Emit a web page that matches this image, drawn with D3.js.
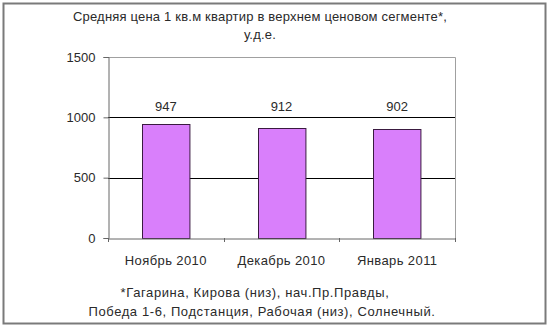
<!DOCTYPE html>
<html>
<head>
<meta charset="utf-8">
<script src="https://cdn.jsdelivr.net/npm/d3@7"></script>
<style>
  body { margin: 0; background: #fff; }
  text { font-family: "Liberation Sans", Arial, sans-serif; fill: #2a2a2a; }
</style>
</head>
<body>
<div id="chart"></div>
<script>
// data
var months = ["Ноябрь 2010", "Декабрь 2010", "Январь 2011"];
var prices = [947, 912, 902];
var yTicks = [0, 500, 1000, 1500];
var titleLines = ["Средняя цена 1 кв.м квартир в верхнем ценовом сегменте*,", "у.д.е."];
var noteLines = ["*Гагарина, Кирова (низ), нач.Пр.Правды,", "Победа 1-6, Подстанция, Рабочая (низ), Солнечный."];

var w = 550, h = 328;
var plotL = 108, plotR = 455, plotT = 57, plotB = 238;
var font = "Liberation Sans, Arial, sans-serif";

var svg = d3.select("#chart").append("svg")
  .attr("width", w)
  .attr("height", h);

// outer frame
svg.append("rect")
  .attr("x", 3.5).attr("y", 3.5)
  .attr("width", 542).attr("height", 320)
  .attr("fill", "none")
  .attr("stroke", "#7a7a7a")
  .attr("stroke-width", 2);

var x = d3.scaleBand().domain(months).range([plotL, plotR]).paddingInner(0.59).paddingOuter(0.295);
var xAxisScale = d3.scaleBand().domain(months).range([plotL, plotR]);
var y = d3.scaleLinear().domain([0, 1500]).range([plotB, plotT]);

// plot border (top and right)
svg.append("path")
  .attr("d", "M" + plotL + "," + (plotT + 0.5) + "H" + (plotR + 0.5) + "V" + plotB)
  .attr("fill", "none")
  .attr("stroke", "#a0a0a0")
  .attr("stroke-width", 1);

// gridlines
svg.selectAll(".grid")
  .data(yTicks.filter(function(d) { return d > 0 && d < 1500; }))
  .enter()
  .append("line")
  .attr("x1", plotL).attr("x2", plotR)
  .attr("y1", function(d) { return Math.round(y(d)) + 0.5; })
  .attr("y2", function(d) { return Math.round(y(d)) + 0.5; })
  .attr("stroke", "#000")
  .attr("stroke-width", 1);

// bars
svg.selectAll(".bar")
  .data(prices)
  .enter()
  .append("rect")
  .attr("x", function(d, i) { return Math.round(x(months[i])) + 0.5; })
  .attr("y", function(d) { return Math.round(y(d)) + 0.5; })
  .attr("width", x.bandwidth())
  .attr("height", function(d) { return Math.round(plotB - y(d)); })
  .attr("fill", "#d97ffb")
  .attr("stroke", "#3a1a40")
  .attr("stroke-width", 1);

// value labels (kept clear of the 1000 gridline, like the original)
svg.selectAll(".val")
  .data(prices)
  .enter()
  .append("text")
  .attr("x", function(d, i) { return x(months[i]) + x.bandwidth() / 2; })
  .attr("y", function(d) { return Math.min(y(d) - 11, y(1000) - 6); })
  .attr("text-anchor", "middle")
  .attr("font-size", 13)
  .text(function(d) { return d; });

// y axis
var yAxis = svg.append("g")
  .attr("transform", "translate(" + (plotL + 0.5) + ",0)")
  .call(d3.axisLeft(y).tickValues(yTicks).tickSize(5).tickPadding(8).tickFormat(d3.format("d")));
yAxis.select(".domain").attr("stroke", "#666");
yAxis.selectAll(".tick line").attr("stroke", "#666");
yAxis.selectAll(".tick text").attr("font-size", 13).attr("fill", "#2a2a2a")
  .attr("font-family", font);

// x axis
var xAxis = svg.append("g")
  .attr("transform", "translate(0," + (plotB + 0.5) + ")")
  .call(d3.axisBottom(xAxisScale).tickSize(0).tickPadding(17));
xAxis.select(".domain").attr("stroke", "#666");
xAxis.selectAll(".tick text").attr("font-size", 13).attr("fill", "#2a2a2a")
  .attr("letter-spacing", 0.4)
  .attr("font-family", font);

// category boundary ticks
svg.selectAll(".xtick")
  .data(d3.range(months.length + 1))
  .enter()
  .append("line")
  .attr("x1", function(i) { return Math.round(plotL + i * xAxisScale.step()) + 0.5; })
  .attr("x2", function(i) { return Math.round(plotL + i * xAxisScale.step()) + 0.5; })
  .attr("y1", plotB)
  .attr("y2", plotB + 4)
  .attr("stroke", "#666");

// title
svg.selectAll(".title")
  .data(titleLines)
  .enter()
  .append("text")
  .attr("x", 260)
  .attr("y", function(d, i) { return 21 + i * 18; })
  .attr("text-anchor", "middle")
  .attr("font-size", 13)
  .attr("letter-spacing", 0.2)
  .text(function(d) { return d; });

// footnote
svg.selectAll(".note")
  .data(noteLines)
  .enter()
  .append("text")
  .attr("x", function(d, i) { return i == 0 ? 255 : 262; })
  .attr("y", function(d, i) { return 297 + i * 19; })
  .attr("text-anchor", "middle")
  .attr("font-size", 13)
  .attr("letter-spacing", 0.6)
  .text(function(d) { return d; });
</script>
</body>
</html>
